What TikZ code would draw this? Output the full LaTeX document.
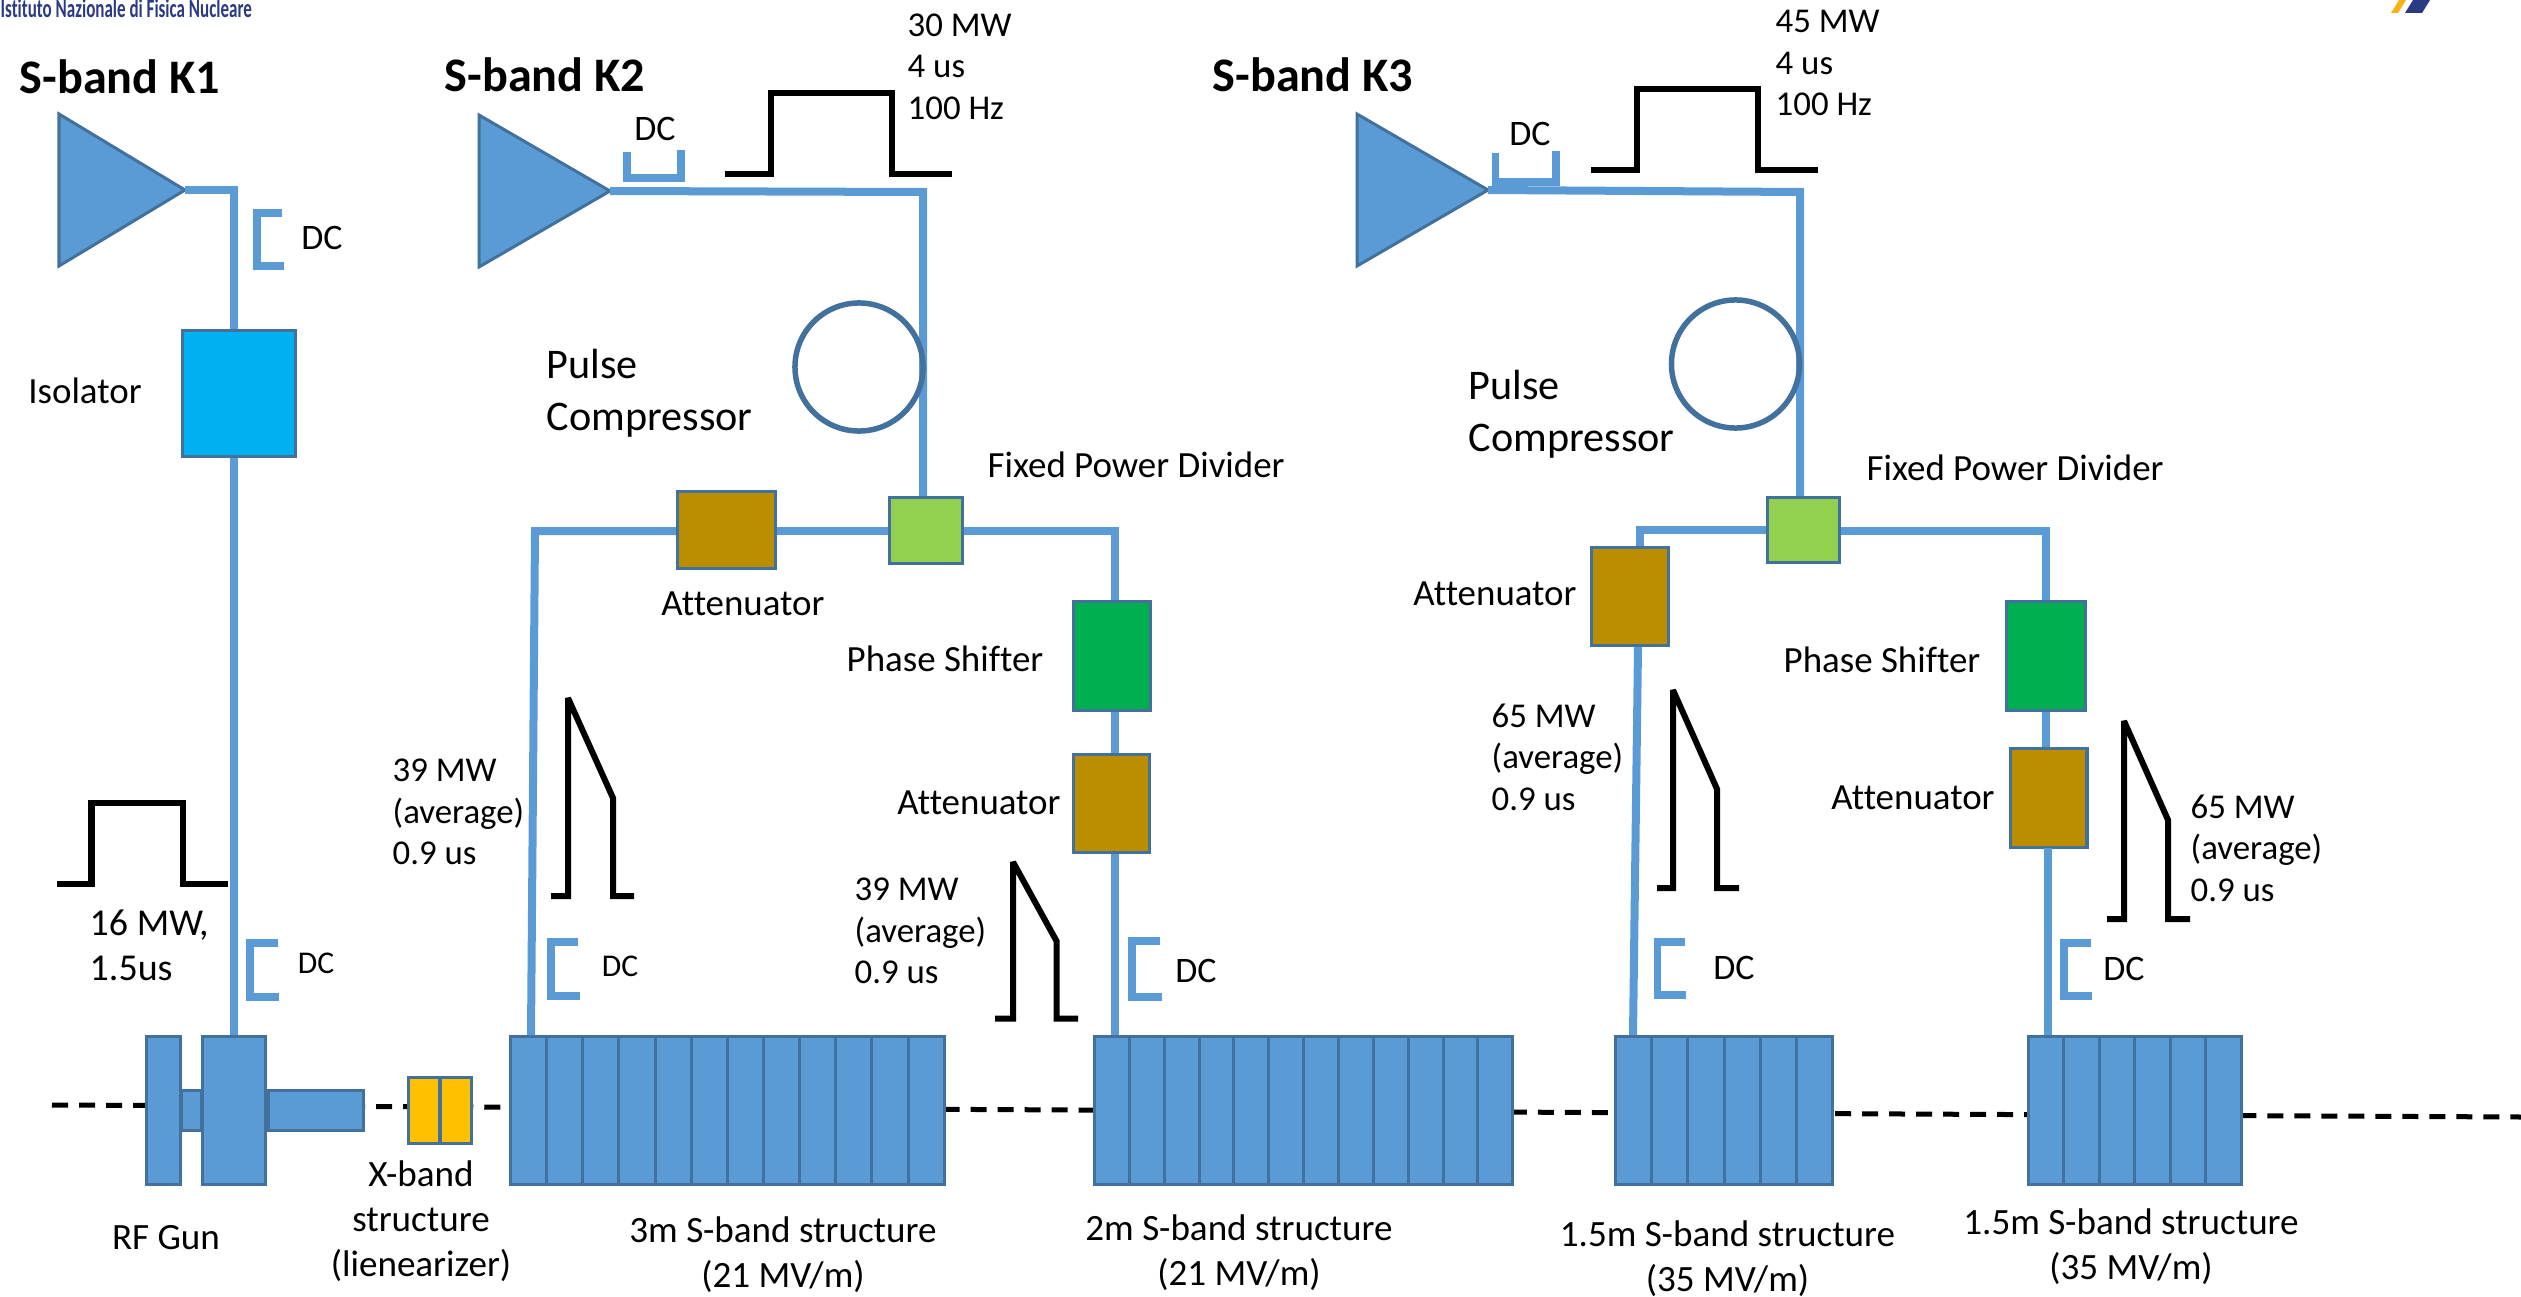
\documentclass[tikz,border=0pt]{standalone}
\usepackage{fontspec}
\setmainfont[Ligatures=NoCommon]{Carlito}
\definecolor{rfblue}{HTML}{5B9BD5}
\definecolor{rfedge}{HTML}{41719C}
\definecolor{isoblue}{HTML}{00B0F0}
\definecolor{dividergreen}{HTML}{92D050}
\definecolor{attnbrown}{HTML}{BB8E00}
\definecolor{shiftgreen}{HTML}{00B050}
\definecolor{xbandgold}{HTML}{FFC000}
\definecolor{logoblue}{HTML}{2B3A85}
\definecolor{logogold}{HTML}{FBB017}
\tikzset{
    rfline/.style={rfblue, line width=0.08cm},
    dcline/.style={rfblue, line width=0.075cm},
    pulseline/.style={black, line width=0.06cm, miter limit=2},
    beamline/.style={black, line width=0.05cm, dash pattern=on 0.16cm off 0.11cm},
    compbox/.style={draw=rfedge, line width=0.03cm, inner sep=0pt},
    cellbox/.style={compbox, fill=rfblue, minimum height=1.48cm},
    ampshape/.style={draw=rfedge, line width=0.03cm, fill=rfblue},
    lbl/.style={inner sep=0pt, align=left, anchor=west, font=\fontsize{9.9}{11.8}\selectfont},
    dclbl/.style={inner sep=0pt, font=\fontsize{10.2}{11.8}\selectfont},
    smalldclbl/.style={inner sep=0pt, font=\fontsize{9}{11}\selectfont},
    complbl/.style={inner sep=0pt, anchor=center, font=\fontsize{10.5}{11.8}\selectfont},
    biglbl/.style={inner sep=0pt, align=left, anchor=west, font=\fontsize{12}{14.8}\selectfont},
    midlbl/.style={inner sep=0pt, align=center, font=\fontsize{10.55}{12.8}\selectfont},
    titlelbl/.style={inner sep=0pt, font=\bfseries\fontsize{13.7}{16}\selectfont},
}
\begin{document}
\begin{tikzpicture}[x=0.01cm, y=-0.01cm]
    \useasboundingbox (0,0) rectangle (2521,1297);
    % logos
    \node[inner sep=0pt, anchor=west, text=logoblue, font=\bfseries\fontsize{7.5}{8}\selectfont] (logotext) at (0,8)
        {\scalebox{0.645}[1]{Istituto Nazionale di Fisica Nucleare}};
    \fill[logogold] (2391,13) -- (2399,0) -- (2406,0) -- (2398,13) -- cycle;
    \fill[logoblue] (2405,13) -- (2413,0) -- (2430,0) -- (2422,13) -- cycle;
    % beam axis
    \coordinate (beamstart) at (52,1105);
    \coordinate (beamend) at (2521,1117);
    \draw[beamline] (beamstart) -- (beamend);
    % RF gun
    \node[cellbox, minimum width=0.34cm] (gunplate) at (163.5,1110.5) {};
    \node[compbox, fill=rfblue, minimum width=0.19cm, minimum height=0.40cm] (gunneck) at (191.5,1110.5) {};
    \node[compbox, fill=rfblue, minimum width=0.95cm, minimum height=0.40cm] (guntail) at (316,1110.5) {};
    \node[cellbox, minimum width=0.63cm] (gunbody) at (234,1110.5) {};
    % X-band
    \foreach \i in {0,1}
        \node[compbox, fill=xbandgold, minimum width=0.30cm, minimum height=0.66cm] (xb-\i) at ({424+32*\i},1110.5) {};
    % S-band structures
    \foreach \i in {0,...,11}
        \node[cellbox, minimum width=0.3625cm] (sthree-\i) at ({528.6+36.15*\i},1110.5) {};
    \foreach \i in {0,...,11}
        \node[cellbox, minimum width=0.35cm] (stwo-\i) at ({1112+34.85*\i},1110.5) {};
    \foreach \i in {0,...,5}
        \node[cellbox, minimum width=0.3633cm] (sone-\i) at ({1633.7+36.2*\i},1110.5) {};
    \foreach \i in {0,...,5}
        \node[cellbox, minimum width=0.3567cm] (sonb-\i) at ({2046.3+35.5*\i},1110.5) {};
    % K1 line
    \draw[ampshape] (59,114) -- (185,190) -- (59,266) -- cycle;
    \coordinate (kone) at (185,190);
    \coordinate (konedrop) at (233.5,190);
    \node[compbox, fill=isoblue, minimum width=1.13cm, minimum height=1.26cm] (iso) at (239,393.5) {};
    \draw[rfline] (kone) -- (konedrop) -- (konedrop |- iso.north);
    \draw[rfline] (konedrop |- iso.south) -- (konedrop |- gunbody.north);
    \draw[dcline] (282,213) -- (257,213) -- (257,266) -- (284,266);
    \draw[dcline] (278,943) -- (250,943) -- (250,997) -- (279,997);
    \draw[pulseline] (57,884) -- (91.5,884) -- (91.5,803) -- (182.5,803) -- (182.5,884) -- (228,884);
    % K2 line
    \draw[ampshape] (479,115) -- (610,191) -- (479,267) -- cycle;
    \coordinate (ktwo) at (610,191);
    \coordinate (ktwodrop) at (923,192);
    \coordinate (ktwoleft) at (535,531);
    \coordinate (ktwofoot) at (531,1035);
    \coordinate (ktworight) at (1115,531);
    \node[compbox, fill=dividergreen, minimum width=0.73cm, minimum height=0.66cm] (pdtwo) at (926,530.5) {};
    \node[compbox, fill=attnbrown, minimum width=0.98cm, minimum height=0.77cm] (atttwoa) at (726.5,530) {};
    \node[compbox, fill=shiftgreen, minimum width=0.77cm, minimum height=1.09cm] (pstwo) at (1112,656) {};
    \node[compbox, fill=attnbrown, minimum width=0.76cm, minimum height=0.98cm] (atttwob) at (1111.5,803.5) {};
    \draw[rfline] (ktwo) -- (ktwodrop) -- (ktwodrop |- pdtwo.north);
    \draw[rfline] (pdtwo.west |- ktwoleft) -- (atttwoa.east |- ktwoleft);
    \draw[rfline] (atttwoa.west |- ktwoleft) -- (ktwoleft) -- (ktwofoot);
    \draw[rfline] (pdtwo.east |- ktworight) -- (ktworight) -- (ktworight |- pstwo.north);
    \draw[rfline] (ktworight |- pstwo.south) -- (ktworight |- atttwob.north);
    \draw[rfline] (ktworight |- atttwob.south) -- (ktworight |- stwo-0.north);
    \node[circle, draw=rfedge, line width=0.055cm, minimum size=1.28cm, inner sep=0pt] (pctwo) at (859,367) {};
    \draw[dcline] (627,152) -- (627,178) -- (681,178) -- (681,150);
    \draw[dcline] (578,942) -- (551,942) -- (551,996) -- (580,996);
    \draw[dcline] (1160,941) -- (1132,941) -- (1132,997) -- (1162,997);
    \draw[pulseline] (725,174) -- (771,174) -- (771,93) -- (891.5,93) -- (891.5,174) -- (952,174);
    \draw[pulseline] (551,896) -- (568,896) -- (568,698) -- (613,798) -- (613,896) -- (634,896);
    \draw[pulseline] (995,1018.5) -- (1013,1018.5) -- (1013,862) -- (1056.5,941) -- (1056.5,1018.5) -- (1078,1018.5);
    % K3 line
    \draw[ampshape] (1357,114) -- (1488,190) -- (1357,266) -- cycle;
    \coordinate (kthree) at (1488,190);
    \coordinate (kthreedrop) at (1800,192);
    \coordinate (kthreeleft) at (1640,530);
    \coordinate (kthreeright) at (2046,531);
    \coordinate (kthreelow) at (1638,647);
    \coordinate (kthreeend) at (1633,1035);
    \coordinate (kthreeout) at (2048,848);
    \node[compbox, fill=dividergreen, minimum width=0.72cm, minimum height=0.65cm] (pdthree) at (1803.5,530) {};
    \node[compbox, fill=attnbrown, minimum width=0.765cm, minimum height=0.985cm] (attthreea) at (1630.2,596.7) {};
    \node[compbox, fill=shiftgreen, minimum width=0.79cm, minimum height=1.095cm] (psthree) at (2046,656.2) {};
    \node[compbox, fill=attnbrown, minimum width=0.765cm, minimum height=0.98cm] (attthreeb) at (2048.7,798) {};
    \draw[rfline] (kthree) -- (kthreedrop) -- (kthreedrop |- pdthree.north);
    \draw[rfline] (pdthree.west |- kthreeleft) -- (kthreeleft) -- (kthreeleft |- attthreea.north);
    \draw[rfline] (kthreelow) -- (kthreeend);
    \draw[rfline] (pdthree.east |- kthreeright) -- (kthreeright) -- (kthreeright |- psthree.north);
    \draw[rfline] (kthreeright |- psthree.south) -- (kthreeright |- attthreeb.north);
    \draw[rfline] (kthreeout) -- (kthreeout |- sonb-0.north);
    \node[circle, draw=rfedge, line width=0.055cm, minimum size=1.28cm, inner sep=0pt] (pcthree) at (1735.5,364) {};
    \draw[dcline] (1495.5,153.5) -- (1495.5,182) -- (1556,182) -- (1556,151);
    \draw[dcline] (1685,942) -- (1657.5,942) -- (1657.5,995) -- (1686,995);
    \draw[dcline] (2091,943) -- (2064,943) -- (2064,996) -- (2092,996);
    \draw[pulseline] (1591,170) -- (1637,170) -- (1637,89) -- (1758,89) -- (1758,170) -- (1818,170);
    \draw[pulseline] (1657,888) -- (1673,888) -- (1673,690) -- (1717,789) -- (1717,888) -- (1739,888);
    \draw[pulseline] (2107,919) -- (2124,919) -- (2124,721) -- (2168,820) -- (2168,919) -- (2190,919);
    % titles
    \node[titlelbl] (titleone) at (120,77) {S-band K1};
    \node[titlelbl] (titletwo) at (545,75) {S-band K2};
    \node[titlelbl] (titlethree) at (1313,75) {S-band K3};
    % labels K1
    \node[dclbl] (dcone) at (322,238) {DC};
    \node[complbl] (isolbl) at (85,391) {Isolator};
    \node[biglbl, font=\fontsize{10.8}{12.8}\selectfont] (gunpulse) at (89,945.5) {16 MW,\\1.5us};
    \node[smalldclbl] (dconeb) at (316,963) {DC};
    \node[midlbl] (gunlbl) at (166,1238) {RF Gun};
    \node[midlbl] (xblbl) at (421,1221.5) {X-band\\structure\\(lienearizer)};
    % labels K2
    \node[dclbl] (dctwo) at (655,129) {DC};
    \node[lbl] (ktwopulse) at (907,66.5) {30 MW\\4 us\\100 Hz};
    \node[biglbl] (pctwolbl) at (546,393) {Pulse\\Compressor};
    \node[complbl, anchor=west] (pdtwolbl) at (987,465) {Fixed Power Divider};
    \node[complbl] (atttwoalbl) at (743,604) {Attenuator};
    \node[complbl] (pstwolbl) at (945,659) {Phase Shifter};
    \node[complbl] (atttwoblbl) at (979,803) {Attenuator};
    \node[lbl] (avgtwoa) at (392,812) {39 MW\\(average)\\0.9 us};
    \node[lbl] (avgtwob) at (854,931) {39 MW\\(average)\\0.9 us};
    \node[smalldclbl] (dctwob) at (620,966) {DC};
    \node[dclbl] (dctwoc) at (1196,971) {DC};
    % labels K3
    \node[dclbl] (dcthree) at (1530,134) {DC};
    \node[lbl] (kthreepulse) at (1775,63) {45 MW\\4 us\\100 Hz};
    \node[biglbl] (pcthreelbl) at (1468,414.5) {Pulse\\Compressor};
    \node[complbl, anchor=west] (pdthreelbl) at (1866,468) {Fixed Power Divider};
    \node[complbl] (attthreealbl) at (1495,594) {Attenuator};
    \node[complbl] (psthreelbl) at (1882,660) {Phase Shifter};
    \node[complbl] (attthreeblbl) at (1913,797.5) {Attenuator};
    \node[lbl] (avgthreea) at (1491,757) {65 MW\\(average)\\0.9 us};
    \node[lbl] (avgthreeb) at (2190,848) {65 MW\\(average)\\0.9 us};
    \node[dclbl] (dcthreeb) at (1734,968) {DC};
    \node[dclbl] (dcthreec) at (2124,969) {DC};
    % structure labels
    \node[midlbl] (sthreelbl) at (783,1255) {3m S-band structure\\(21 MV/m)};
    \node[midlbl] (stwolbl) at (1239,1252.5) {2m S-band structure\\(21 MV/m)};
    \node[midlbl] (sonelbl) at (1727.5,1259) {1.5m S-band structure\\(35 MV/m)};
    \node[midlbl] (sonblbl) at (2131,1246.5) {1.5m S-band structure\\(35 MV/m)};
\end{tikzpicture}
\end{document}
